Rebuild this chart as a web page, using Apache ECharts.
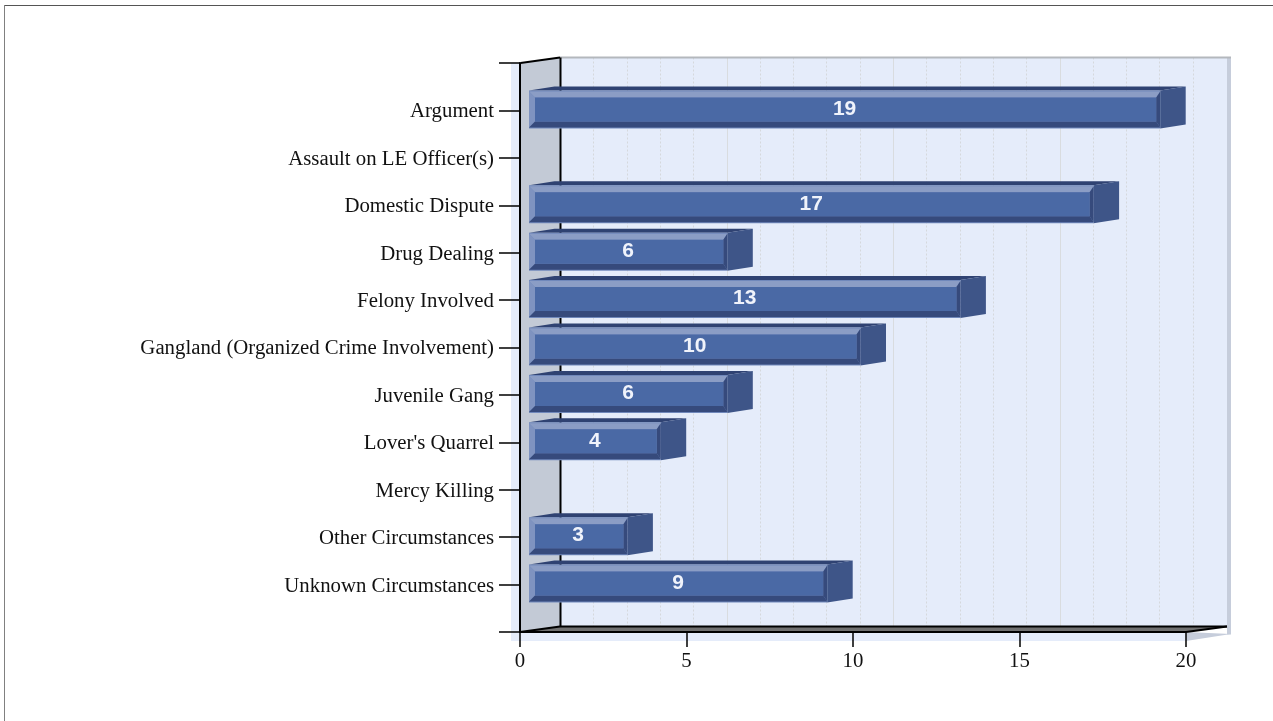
<!DOCTYPE html>
<html>
<head>
<meta charset="utf-8">
<style>html,body{margin:0;padding:0;background:#fff}#c{width:1273px;height:721px}</style>
<script src="https://cdn.jsdelivr.net/npm/echarts@6/dist/echarts.min.js"></script>
</head>
<body>
<div id="c"></div>
<script>
const categories = ['', 'Argument', 'Assault on LE Officer(s)', 'Domestic Dispute', 'Drug Dealing', 'Felony Involved', 'Gangland (Organized Crime Involvement)', 'Juvenile Gang', "Lover's Quarrel", 'Mercy Killing', 'Other Circumstances', 'Unknown Circumstances', ''];
const values = [null, 19, 0, 17, 6, 13, 10, 6, 4, 0, 3, 9, null];
const gridValues = [1, 2, 3, 4, 5, 6, 7, 8, 9, 10, 11, 12, 13, 14, 15, 16, 17, 18, 19];

const DX = 40, DY = -5.5;

function poly(points, fill, stroke) {
  return { type: 'polygon', shape: { points }, style: { fill, stroke: stroke || null, lineWidth: stroke ? 1 : 0 } };
}
function rect(x, y, w, h, fill) {
  return { type: 'rect', shape: { x, y, width: w, height: h }, style: { fill } };
}
function line(x1, y1, x2, y2, stroke, lineWidth, dash) {
  return { type: 'line', shape: { x1, y1, x2, y2 }, style: { stroke, lineWidth: lineWidth || 1, lineDash: dash || null } };
}

function renderWalls(params, api) {
  const o = api.coord([0, 12]);     // origin, bottom front
  const t = api.coord([0, 0]);      // top front
  const e = api.coord([20, 12]);    // x end, bottom front
  const x0 = o[0], yb = o[1], yt = t[1], x1 = e[0];
  const backL = x0 + DX, backR = x1 + DX + 1, backT = yt + DY, backB = yb + DY;
  const ch = [];
  ch.push(rect(x0 - 9, yt, x1 - x0 + 9, yb - yt + 9, '#e5ecfa'));
  ch.push(poly([[x1, yb + 9], [backR + 4, yb + 2], [x1, yb]], '#c6cddb'));
  ch.push(rect(backL, backT, backR - backL, backB - backT, '#e5ecfa'));
  ch.push(rect(backR, backT, 4, backB - backT + 8, '#c6cddb'));
  gridValues.forEach(v => {
    const gx = Math.round(api.coord([v, 0])[0] + DX) + 0.5;
    ch.push(v % 5 === 0
      ? line(gx, backT, gx, backB, '#d9dcdf', 1)
      : line(gx, backT, gx, backB, '#d5d8dc', 1, [2, 2]));
  });
  ch.push(rect(backL, backT - 1, backR - backL + 4, 2, '#b4b8bd'));
  ch.push(poly([[x0, yt], [backL, backT], [backL, backB], [x0, yb]], '#c3cad6'));
  ch.push(poly([[x0, yb], [backL, backB], [backR, backB], [x1, yb]], '#707070'));
  ch.push(line(x0 + 0.5, yt, backL, backT, '#000', 2));
  ch.push(line(backL + 0.5, backT, backL + 0.5, backB, '#000', 2));
  ch.push(line(backL, backB, backR, backB, '#000', 2));
  ch.push(line(x0, yb, backL, backB, '#000', 2));
  ch.push(line(x1, yb, backR, backB, '#000', 2));
  return { type: 'group', children: ch };
}

function renderBar(params, api) {
  const v = api.value(0);
  if (!v) return null;
  const base = api.coord([0, api.value(1)]);
  const end = api.coord([v, api.value(1)]);
  const xl = base[0] + 9, xr = end[0] + 7.5, cy = base[1];
  const yt = cy - 20, yb = cy + 18;
  const sx = 25.5, sy = -4;
  const bev = 6;
  const ch = [
    poly([[xl, yt], [xl + sx, yt + sy], [xr + sx, yt + sy], [xr, yt]], '#2f4272'),
    poly([[xr, yt], [xr + sx, yt + sy], [xr + sx, yb + sy], [xr, yb]], '#3e5588'),
    rect(xl, yt, xr - xl, yb - yt, '#7088bb'),
    poly([[xl, yt + 1], [xr, yt + 1], [xr - bev + 2, yt + bev + 1], [xl + bev, yt + bev + 1]], '#8b9dc5'),
    poly([[xl, yt + 1], [xl + bev, yt + bev + 1], [xl + bev, yb - bev - 1], [xl, yb - 1]], '#7f93c0'),
    poly([[xl, yb - 1], [xl + bev, yb - bev - 1], [xr - bev + 2, yb - bev - 1], [xr, yb - 1]], '#364a7c'),
    poly([[xr, yt + 1], [xr - bev + 2, yt + bev + 1], [xr - bev + 2, yb - bev - 1], [xr, yb - 1]], '#364a7c'),
    rect(xl + bev, yt + bev + 1, xr - xl - 2 * bev + 2, yb - yt - 2 * bev - 2, '#4a69a5'),
    { type: 'text', x: (xl + xr) / 2, y: cy - 1.5, style: {
      text: String(v), fill: '#f0f3fb', font: 'bold 21px "Liberation Sans"', align: 'center', verticalAlign: 'middle'
    } }
  ];
  return { type: 'group', children: ch };
}

const chart = echarts.init(document.getElementById('c'), null, { renderer: 'canvas' });
chart.setOption({
  animation: false,
  backgroundColor: '#fff',
  graphic: [
    { type: 'rect', shape: { x: 4, y: 5, width: 1269, height: 1 }, style: { fill: '#555' } },
    { type: 'rect', shape: { x: 4, y: 5, width: 1, height: 716 }, style: { fill: '#808080' } }
  ],
  grid: { left: 520, right: 87, top: 63, bottom: 89 },
  xAxis: {
    type: 'value', min: 0, max: 20, interval: 5,
    splitLine: { show: false },
    axisLine: { show: true, lineStyle: { color: '#000', width: 2 } },
    axisTick: { show: true, length: 15, lineStyle: { color: '#000', width: 1.5 } },
    axisLabel: { margin: 19, color: '#111', fontFamily: 'Liberation Serif', fontSize: 20.8 }
  },
  yAxis: {
    type: 'category', data: categories, inverse: true, boundaryGap: false,
    splitLine: { show: false },
    axisLine: { show: true, lineStyle: { color: '#000', width: 2 } },
    axisTick: { show: true, length: 21, lineStyle: { color: '#000', width: 1.5 } },
    axisLabel: { margin: 26, interval: 0, verticalAlign: 'top', padding: [-9, 0, 0, 0], color: '#111', fontFamily: 'Liberation Serif', fontSize: 20.8 }
  },
  series: [
    { type: 'custom', z: -1, silent: true, coordinateSystem: 'cartesian2d', renderItem: renderWalls, data: [[0, 0]], encode: { x: 0, y: 1 } },
    { type: 'custom', z: 5, silent: true, coordinateSystem: 'cartesian2d', renderItem: renderBar,
      data: values.map((v, i) => [v, i]), encode: { x: 0, y: 1 } }
  ]
});
</script>
</body>
</html>
